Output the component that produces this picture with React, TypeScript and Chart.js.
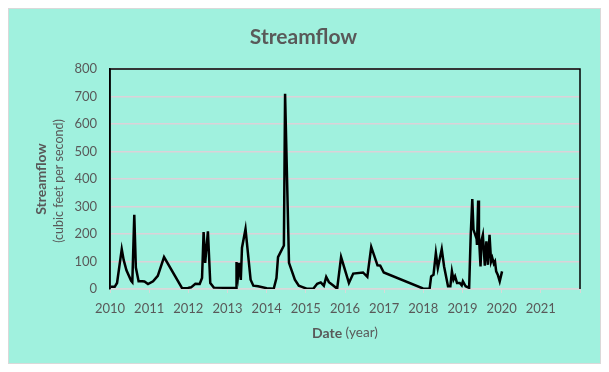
import React, { useEffect, useRef } from "react";
import { Chart, registerables } from "chart.js";

Chart.register(...registerables);

// Decimal-year dates and streamflow values (cubic feet per second)
const dates = [
  2010.02, 2010.12, 2010.18, 2010.30, 2010.35, 2010.42, 2010.54, 2010.57, 2010.62, 2010.66,
  2010.73, 2010.82, 2010.88, 2010.97, 2011.10, 2011.22, 2011.38, 2011.84, 2011.99, 2012.07,
  2012.18, 2012.29, 2012.35, 2012.39, 2012.43, 2012.50, 2012.56, 2012.65, 2013.22, 2013.23,
  2013.27, 2013.30, 2013.34, 2013.37, 2013.46, 2013.59, 2013.66, 2013.78, 2014.00, 2014.18,
  2014.25, 2014.29, 2014.44, 2014.47, 2014.57, 2014.72, 2014.82, 2014.90, 2015.02, 2015.19,
  2015.29, 2015.38, 2015.46, 2015.52, 2015.59, 2015.70, 2015.80, 2015.90, 2016.10, 2016.21,
  2016.46, 2016.57, 2016.67, 2016.83, 2016.90, 2016.99, 2017.99, 2018.16, 2018.20, 2018.26,
  2018.32, 2018.37, 2018.47, 2018.53, 2018.63, 2018.69, 2018.73, 2018.77, 2018.81, 2018.86,
  2018.93, 2018.98, 2019.01, 2019.08, 2019.17, 2019.21, 2019.25, 2019.28, 2019.36, 2019.37,
  2019.40, 2019.42, 2019.46, 2019.49, 2019.52, 2019.57, 2019.61, 2019.65, 2019.69, 2019.73,
  2019.76, 2019.80, 2019.83, 2019.86, 2019.90, 2019.95, 2020.01,
];
const flows = [
  8, 8, 22, 145, 105, 68, 30, 25, 270, 78,
  28, 28, 27, 18, 28, 48, 116, 3, 4, 6,
  19, 18, 40, 207, 95, 210, 22, 5, 4, 98,
  50, 95, 33, 150, 218, 34, 12, 10, 3, 1,
  40, 116, 158, 710, 95, 34, 12, 8, 1, 1,
  19, 24, 12, 44, 25, 13, 1, 116, 22, 56,
  60, 44, 153, 86, 85, 60, 2, 1, 46, 52,
  131, 76, 145, 82, 10, 10, 64, 34, 46, 22,
  22, 13, 28, 10, 4, 197, 327, 216, 182, 160,
  322, 191, 82, 179, 197, 85, 173, 88, 197, 100,
  113, 92, 100, 64, 52, 28, 64,
];
const yearTickLabels = [2010, 2011, 2012, 2013, 2014, 2015, 2016, 2017, 2018, 2019, 2020, 2021];

const CHART_TITLE = "Streamflow";
const Y_TITLE_MAIN = "Streamflow";
const Y_TITLE_SUB = "(cubic feet per second)";
const X_TITLE_MAIN = "Date";
const X_TITLE_SUB = " (year)";

const TEXT_COLOR = "#595959";
const FONT = "Lato, 'Open Sans', sans-serif";

const decoPlugin = {
  id: "decoPlugin",
  afterDraw(chart: any) {
    const { ctx, chartArea: ca, width } = chart;
    ctx.save();
    // plot border (top, left, right)
    ctx.strokeStyle = "#000000";
    ctx.lineWidth = 1.5;
    ctx.beginPath();
    ctx.moveTo(ca.left, ca.bottom);
    ctx.lineTo(ca.left, ca.top);
    ctx.lineTo(ca.right, ca.top);
    ctx.lineTo(ca.right, ca.bottom);
    ctx.stroke();

    ctx.fillStyle = TEXT_COLOR;
    ctx.textBaseline = "middle";

    // chart title
    ctx.textAlign = "center";
    ctx.font = `bold 21px ${FONT}`;
    ctx.fillText(CHART_TITLE, width / 2 - 1, 28);

    // y axis title (two lines, rotated)
    const cy = (ca.top + ca.bottom) / 2;
    ctx.save();
    ctx.translate(32, cy);
    ctx.rotate(-Math.PI / 2);
    ctx.font = `bold 14px ${FONT}`;
    ctx.fillText(Y_TITLE_MAIN, 0, 0);
    ctx.restore();
    ctx.save();
    ctx.translate(50, cy + 2);
    ctx.rotate(-Math.PI / 2);
    ctx.font = `12.5px ${FONT}`;
    ctx.fillText(Y_TITLE_SUB, 0, 0);
    ctx.restore();

    // x axis title (mixed weight)
    const cx = (ca.left + ca.right) / 2;
    ctx.textAlign = "left";
    ctx.font = `bold 14px ${FONT}`;
    const w1 = ctx.measureText(X_TITLE_MAIN).width;
    ctx.font = `13.5px ${FONT}`;
    const w2 = ctx.measureText(X_TITLE_SUB).width;
    const x0 = cx - (w1 + w2) / 2;
    ctx.font = `bold 14px ${FONT}`;
    ctx.fillText(X_TITLE_MAIN, x0, 324);
    ctx.font = `13.5px ${FONT}`;
    ctx.fillText(X_TITLE_SUB, x0 + w1, 324);
    ctx.restore();
  },
};

export default function App() {
  const canvasRef = useRef<HTMLCanvasElement | null>(null);

  useEffect(() => {
    if (!canvasRef.current) return;
    const points = dates.map((d, i) => ({ x: d, y: flows[i] }));
    const chart = new Chart(canvasRef.current, {
      type: "line",
      data: {
        datasets: [
          {
            label: "Streamflow",
            data: points,
            borderColor: "#000000",
            borderWidth: 2.5,
            pointRadius: 0,
            tension: 0,
            fill: false,
          },
        ],
      },
      options: {
        responsive: false,
        animation: false,
        layout: { padding: { left: 0, right: 20, top: 60, bottom: 0 } },
        plugins: {
          legend: { display: false },
          tooltip: { enabled: false },
          title: { display: false },
        },
        scales: {
          x: {
            type: "linear",
            min: 2010,
            max: 2022,
            afterFit: (s: any) => {
              s.height = 74;
            },
            afterBuildTicks: (s: any) => {
              s.ticks = yearTickLabels.map((v) => ({ value: v })).concat([{ value: 2022 }]);
            },
            ticks: {
              color: TEXT_COLOR,
              font: { family: FONT, size: 13 },
              maxRotation: 0,
              autoSkip: false,
              padding: 8,
              callback: (v: any) => (yearTickLabels.includes(Number(v)) ? String(v) : ""),
            },
            grid: {
              drawOnChartArea: false,
              drawTicks: true,
              tickLength: 4,
              color: "#d9d9d9",
            },
            border: { display: true, color: "#d9d9d9", width: 1.5 },
          },
          y: {
            min: 0,
            max: 800,
            afterFit: (s: any) => {
              s.width = 101;
            },
            ticks: {
              stepSize: 100,
              color: TEXT_COLOR,
              font: { family: FONT, size: 13 },
              padding: 13,
            },
            grid: {
              color: "#dcd2d8",
              lineWidth: 1.5,
              drawTicks: false,
            },
            border: { display: true, color: "#000000", width: 1.5 },
          },
        },
      },
      plugins: [decoPlugin],
    });
    return () => chart.destroy();
  }, []);

  return (
    <div
      style={{
        width: 593,
        height: 356,
        boxSizing: "border-box",
        border: "1px solid #d9d9d9",
        background: "#a0f1de",
      }}
    >
      <canvas ref={canvasRef} width={591} height={354} style={{ display: "block" }} />
    </div>
  );
}
